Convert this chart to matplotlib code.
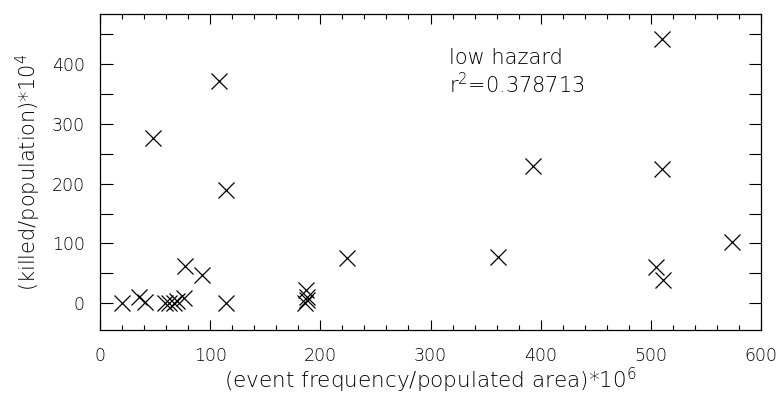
import matplotlib
matplotlib.use("Agg")
import matplotlib.pyplot as plt
from matplotlib.ticker import MultipleLocator, FuncFormatter

# data
freq = [20, 35, 41, 48, 59, 63, 67, 70, 76, 77, 93, 108, 114, 114,
        186, 188, 188, 187, 224, 361, 393, 510, 510, 505, 511, 574]
killed = [0, 10, 2, 277, 0, 0, 0, 3, 8, 62, 47, 372, 0, 190,
          0, 5, 10, 22, 75, 78, 229, 442, 225, 61, 39, 102]

label_text = "low hazard"
r2_text = "r$^2$=0.378713"
xlabel = "(event frequency/populated area)*10$^6$"
ylabel = "(killed/population)*10$^4$"

plt.rcParams['font.family'] = ['DejaVu Sans']
plt.rcParams['font.weight'] = 'light'
plt.rcParams['axes.labelweight'] = 'light'
plt.rcParams['mathtext.fontset'] = 'custom'
plt.rcParams['mathtext.rm'] = 'DejaVu Sans:weight=light'
plt.rcParams['mathtext.it'] = 'DejaVu Sans:weight=light'
plt.rcParams['mathtext.default'] = 'rm'

fig = plt.figure(figsize=(7.83, 3.96), dpi=100)
ax = fig.add_axes([100/783, 66/396, 661/783, 316/396])

ax.plot(freq, killed, linestyle='none', marker='x', markersize=11.5,
        markeredgewidth=0.9, color='black')

ax.set_xlim(0, 600)
ax.set_ylim(-45, 484)
ax.xaxis.set_major_locator(MultipleLocator(100))
ax.xaxis.set_minor_locator(MultipleLocator(20))
ax.yaxis.set_major_locator(MultipleLocator(50))
ax.yaxis.set_major_formatter(FuncFormatter(lambda v, p: f"{int(v)}" if v % 100 == 0 else ""))

ax.tick_params(axis='x', which='major', direction='in', length=7, width=0.8,
               top=True, bottom=True, labelsize=12.5, labelcolor='black', pad=12)
ax.tick_params(axis='x', which='minor', direction='in', length=3.5, width=0.8,
               top=True, bottom=True)
ax.tick_params(axis='y', which='major', direction='in', length=9, width=0.8,
               left=True, right=True, labelsize=12.5, labelcolor='black', pad=11)
for s in ax.spines.values():
    s.set_linewidth(0.9)

ax.set_xlabel(xlabel, fontsize=15.5, labelpad=1, color='black')
ax.set_ylabel(ylabel, fontsize=15, labelpad=6, color='black')

ax.text(449/783, 1 - 48/396, label_text, transform=fig.transFigure,
        fontsize=15, va='top', ha='left', color='black')
ax.text(449/783, 1 - 72/396, r2_text, transform=fig.transFigure,
        fontsize=15, va='top', ha='left', color='black')

fig.savefig("out.png", dpi=100)
